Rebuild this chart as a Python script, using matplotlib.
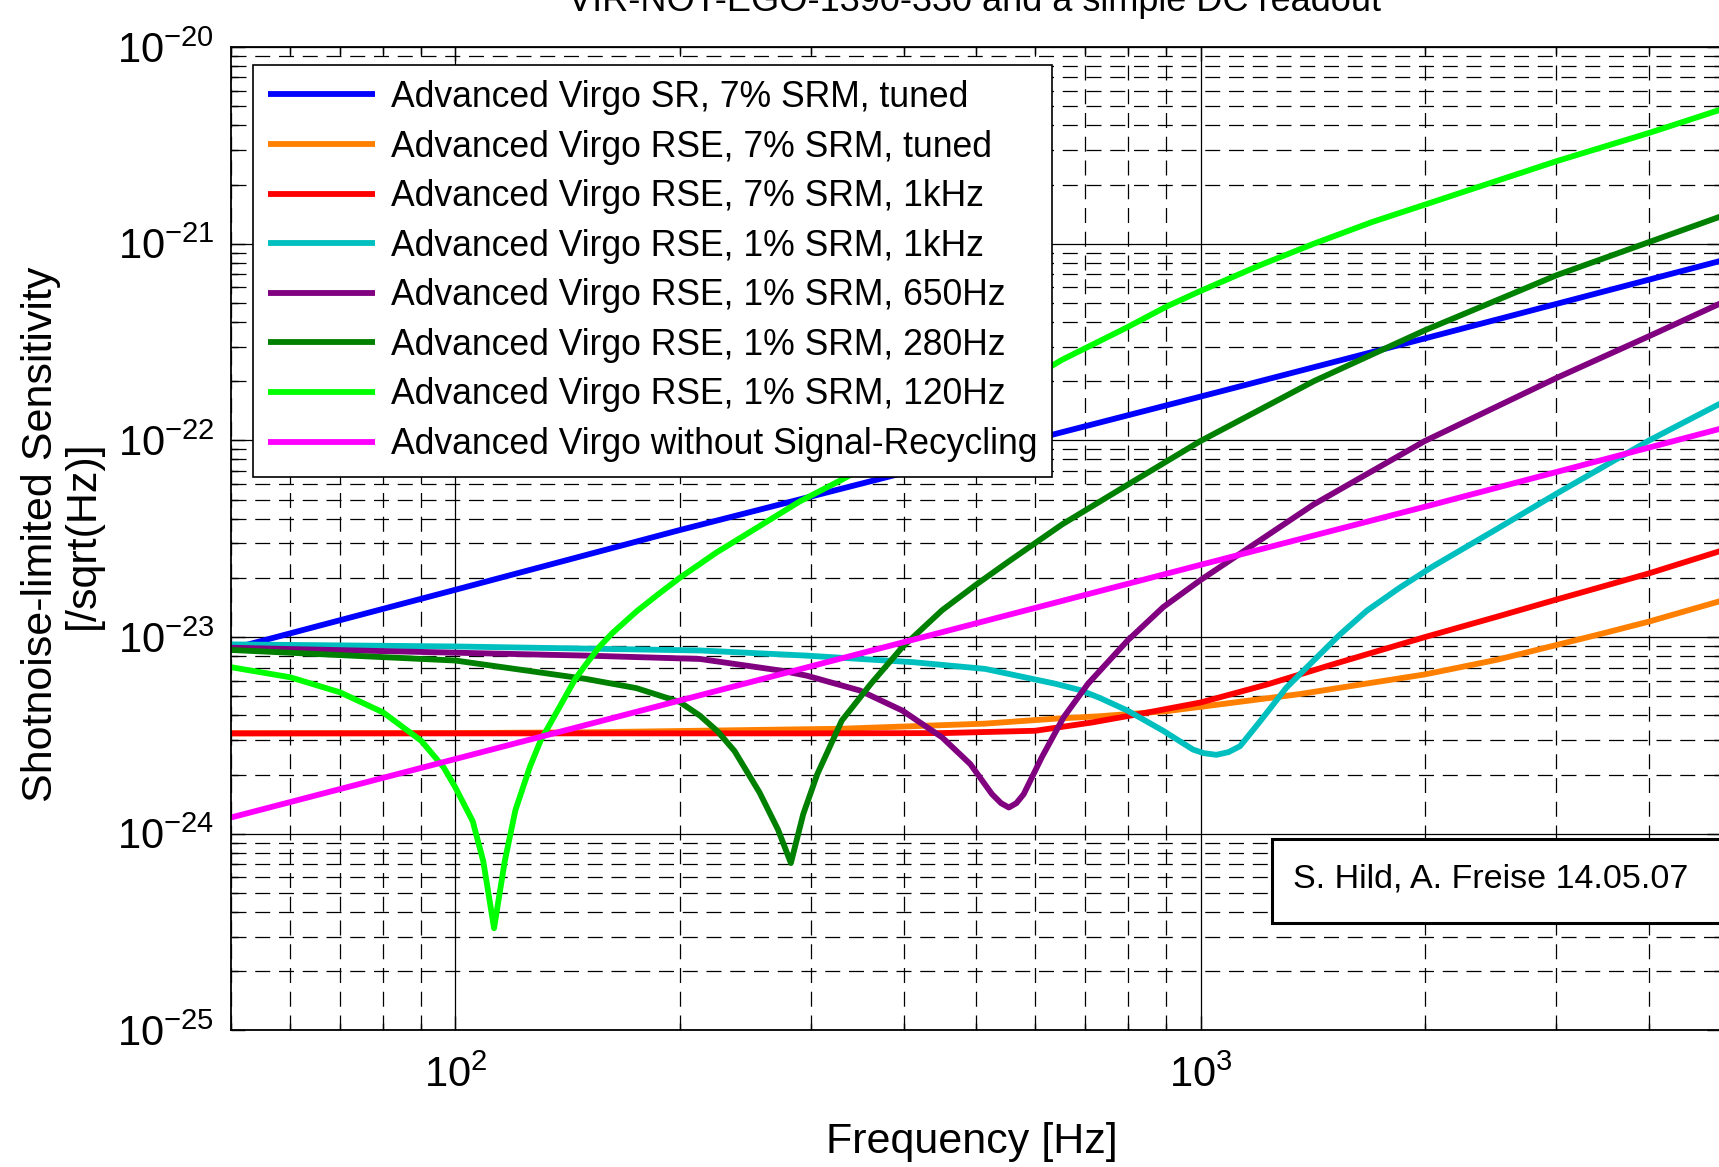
import numpy as np
import matplotlib
matplotlib.use("Agg")
import matplotlib.pyplot as plt
from matplotlib.patches import Rectangle


# =========================
# 1. 数据
# =========================

SR7_TUNED_F = [50, 100, 200, 500, 1000, 2000, 5000]
SR7_TUNED_H = [8.7e-24, 1.74e-23, 3.5e-23, 8.5e-23, 1.67e-22, 3.3e-22, 8.2e-22]

RSE7_TUNED_F = [50, 100, 150, 200, 330, 513, 640, 733, 900, 1000, 1358, 2000, 2500, 3006,
                3436, 4000, 5000]
RSE7_TUNED_H = [3.24e-24, 3.25e-24, 3.28e-24, 3.33e-24, 3.42e-24, 3.63e-24, 3.85e-24, 3.96e-24,
                4.2e-24, 4.42e-24, 5.13e-24, 6.46e-24, 7.67e-24, 9.12e-24, 1.035e-23, 1.2e-23,
                1.53e-23]

RSE7_1K_F = [50, 100, 200, 300, 450, 600, 715, 850, 1000, 1230, 1500, 2000, 2500, 3000, 3450,
             4000, 5000]
RSE7_1K_H = [3.24e-24, 3.24e-24, 3.24e-24, 3.24e-24, 3.25e-24, 3.34e-24, 3.68e-24, 4.14e-24,
             4.65e-24, 5.75e-24, 7.24e-24, 1.0e-23, 1.27e-23, 1.55e-23, 1.8e-23, 2.11e-23,
             2.75e-23]

RSE1_1K_F = [50, 100, 213, 296, 412, 514, 640, 690, 733, 798, 891, 977, 1010, 1050, 1090, 1130,
             1202, 1303, 1416, 1538, 1671, 1849, 2051, 2500, 3006, 4000, 5000]
RSE1_1K_H = [9.18e-24, 8.96e-24, 8.55e-24, 8.05e-24, 7.45e-24, 6.89e-24, 5.78e-24, 5.37e-24,
             4.9e-24, 4.23e-24, 3.34e-24, 2.68e-24, 2.57e-24, 2.52e-24, 2.6e-24, 2.79e-24,
             3.73e-24, 5.52e-24, 7.55e-24, 1.03e-23, 1.36e-23, 1.78e-23, 2.29e-23, 3.55e-23,
             5.37e-23, 1.0e-22, 1.55e-22]

RSE1_650_F = [50, 150, 213, 273, 296, 349, 398, 450, 491, 525, 540, 553, 566, 579, 612, 655,
              706, 798, 891, 1000, 1419, 2000, 3006, 4000, 5000]
RSE1_650_H = [8.83e-24, 8.05e-24, 7.74e-24, 6.76e-24, 6.37e-24, 5.35e-24, 4.23e-24, 3.09e-24,
              2.26e-24, 1.59e-24, 1.43e-24, 1.36e-24, 1.43e-24, 1.59e-24, 2.44e-24, 3.91e-24,
              5.78e-24, 9.6e-24, 1.42e-23, 1.95e-23, 4.73e-23, 9.93e-23, 2.08e-22, 3.39e-22,
              5.0e-22]

RSE1_280_F = [50, 100, 150, 175, 200, 213, 225, 237, 256, 271, 282, 293, 306, 330, 361, 398,
              450, 502, 555, 652, 793, 1000, 1419, 2000, 3006, 4000, 5000]
RSE1_280_H = [8.6e-24, 7.6e-24, 6.12e-24, 5.5e-24, 4.68e-24, 3.98e-24, 3.31e-24, 2.63e-24,
              1.62e-24, 1.05e-24, 7.1e-25, 1.26e-24, 2.01e-24, 3.76e-24, 5.78e-24, 8.89e-24,
              1.37e-23, 1.87e-23, 2.45e-23, 3.74e-23, 5.86e-23, 9.93e-23, 2.0e-22, 3.63e-22,
              6.92e-22, 1.02e-21, 1.38e-21]

RSE1_120_F = [50, 60, 70, 80, 90, 96.5, 100, 105.5, 109, 112.7, 116.5, 120.4, 125.9, 130.1,
              140.6, 145, 150.3, 156, 162.4, 175, 187.5, 200, 224, 250, 290, 330, 368, 430,
              500, 570, 652, 793, 900, 1000, 1200, 1419, 1700, 2000, 2500, 3006, 4000, 5000]
RSE1_120_H = [7.03e-24, 6.25e-24, 5.24e-24, 4.14e-24, 2.97e-24, 2.17e-24, 1.72e-24, 1.16e-24,
              7.26e-25, 3.31e-25, 7.26e-25, 1.32e-24, 2.19e-24, 2.97e-24, 5.01e-24, 6.17e-24,
              7.41e-24, 8.91e-24, 1.047e-23, 1.35e-23, 1.66e-23, 2.0e-23, 2.69e-23, 3.47e-23,
              4.9e-23, 6.31e-23, 7.94e-23, 1.096e-22, 1.445e-22, 1.905e-22, 2.57e-22,
              3.72e-22, 4.79e-22, 5.75e-22, 7.76e-22, 1.0e-21, 1.29e-21, 1.58e-21, 2.09e-21,
              2.63e-21, 3.66e-21, 4.82e-21]

NO_SR_F = [50, 100, 300, 1000, 2000, 5000]
NO_SR_H = [1.21e-24, 2.4e-24, 7.1e-24, 2.33e-23, 4.6e-23, 1.15e-22]

LABELS = [
    "Advanced Virgo SR, 7% SRM, tuned",
    "Advanced Virgo RSE, 7% SRM, tuned",
    "Advanced Virgo RSE, 7% SRM, 1kHz",
    "Advanced Virgo RSE, 1% SRM, 1kHz",
    "Advanced Virgo RSE, 1% SRM, 650Hz",
    "Advanced Virgo RSE, 1% SRM, 280Hz",
    "Advanced Virgo RSE, 1% SRM, 120Hz",
    "Advanced Virgo without Signal-Recycling",
]
COLORS = ["#0000ff", "#ff8000", "#ff0000", "#00bfbf", "#800080", "#008000", "#00ff00", "#ff00ff"]

X_TICKS = [100, 1000]
X_TICK_LABELS = [r"$10^{2}$", r"$10^{3}$"]
Y_TICKS = [1e-25, 1e-24, 1e-23, 1e-22, 1e-21, 1e-20]
Y_TICK_LABELS = [r"$10^{-25}$", r"$10^{-24}$", r"$10^{-23}$", r"$10^{-22}$", r"$10^{-21}$", r"$10^{-20}$"]

TITLE = "VIR-NOT-EGO-1390-330 and a simple DC readout"
X_LABEL = "Frequency [Hz]"
Y_LABEL = "Shotnoise-limited Sensitivity\n[/sqrt(Hz)]"
NOTE = "S. Hild, A. Freise 14.05.07"


# =========================
# 2. 样式
# =========================

plt.rcParams["font.family"] = ["Liberation Sans", "DejaVu Sans"]
plt.rcParams["mathtext.fontset"] = "custom"
plt.rcParams["mathtext.rm"] = "Liberation Sans"
plt.rcParams["mathtext.it"] = "Liberation Sans"
plt.rcParams["mathtext.default"] = "regular"

LINE_W = 4.2


def main():
    fig = plt.figure(figsize=(17.19, 11.67), dpi=100)
    ax = fig.add_axes([0.1344, 0.1170, 0.8670, 0.8427])

    curves = [
        (SR7_TUNED_F, SR7_TUNED_H),
        (RSE7_TUNED_F, RSE7_TUNED_H),
        (RSE7_1K_F, RSE7_1K_H),
        (RSE1_1K_F, RSE1_1K_H),
        (RSE1_650_F, RSE1_650_H),
        (RSE1_280_F, RSE1_280_H),
        (RSE1_120_F, RSE1_120_H),
        (NO_SR_F, NO_SR_H),
    ]

    for (f, h), label, color in zip(curves, LABELS, COLORS):
        ax.plot(f, h, color=color, lw=LINE_W, label=label,
                solid_joinstyle="round", solid_capstyle="butt")

    ax.set_xscale("log")
    ax.set_yscale("log")
    ax.set_xlim(50, 5000)
    ax.set_ylim(1e-25, 1e-20)

    ax.set_xticks(X_TICKS, labels=X_TICK_LABELS)
    ax.set_yticks(Y_TICKS, labels=Y_TICK_LABELS)
    ax.xaxis.set_minor_locator(matplotlib.ticker.LogLocator(base=10, subs=np.arange(2, 10)))
    ax.yaxis.set_minor_locator(matplotlib.ticker.LogLocator(base=10, subs=np.arange(2, 10), numticks=20))
    ax.xaxis.set_minor_formatter(matplotlib.ticker.NullFormatter())
    ax.yaxis.set_minor_formatter(matplotlib.ticker.NullFormatter())

    ax.tick_params(which="both", direction="in", top=True, right=True, labelsize=30, width=1)
    ax.tick_params(which="major", length=10)
    ax.tick_params(which="minor", length=5)
    ax.tick_params(axis="x", pad=18)
    ax.tick_params(axis="y", pad=12)

    # MATLAB 风格网格：主网格实线，次网格虚线
    ax.grid(which="major", color="black", lw=0.9, ls="-")
    ax.grid(which="minor", color="black", lw=0.9, ls=(0, (12, 7)))
    ax.set_axisbelow(True)

    for spine in ax.spines.values():
        spine.set_linewidth(1.3)

    leg = ax.legend(loc="upper left", bbox_to_anchor=(0.1472, 0.9443),
                    bbox_transform=fig.transFigure, borderaxespad=0,
                    fontsize=25.6, handlelength=3.0, handletextpad=0.45,
                    labelspacing=0.41, borderpad=0.42, fancybox=False,
                    framealpha=1, edgecolor="black")
    leg.get_frame().set_linewidth(1.2)
    for line in leg.get_lines():
        line.set_linewidth(LINE_W)

    # 标题（在图片顶部被裁掉一半）
    fig.text(0.567, 0.991, TITLE, ha="center", va="baseline", fontsize=26)

    fig.text(0.5654, 0.021, X_LABEL, ha="center", va="center", fontsize=31)
    fig.text(0.036, 0.542, Y_LABEL, ha="center", va="center", rotation=90,
             multialignment="center", fontsize=31, linespacing=1.05)

    # 右下角署名框
    fig.add_artist(Rectangle((0.740, 0.2091), 0.262, 0.072, transform=fig.transFigure,
                             facecolor="white", edgecolor="black", lw=2.2, zorder=5))
    fig.text(0.7522, 0.2465, NOTE, ha="left", va="center", fontsize=24.5, zorder=6)

    fig.savefig("out.png", dpi=100)


if __name__ == "__main__":
    main()
